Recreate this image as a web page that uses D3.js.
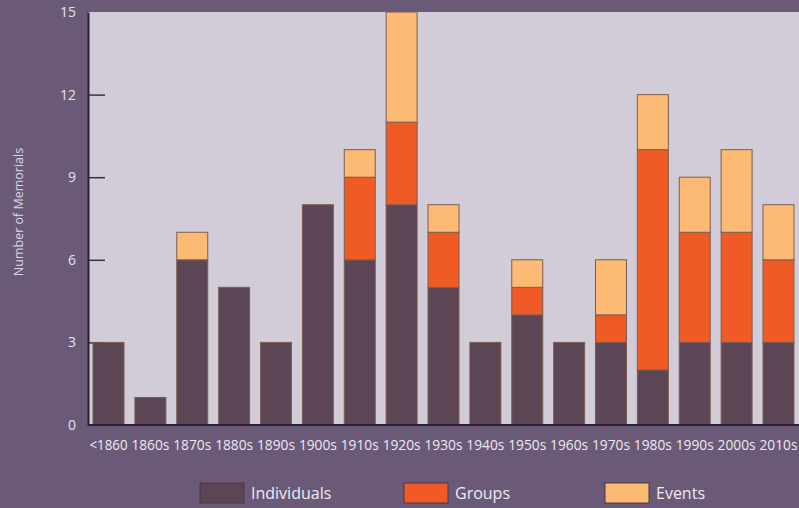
<!DOCTYPE html>
<html>
<head>
<meta charset="utf-8">
<script src="https://cdn.jsdelivr.net/npm/d3@7"></script>
<style>
  body { margin: 0; background: #6a5a78; }
  svg { display: block; }
</style>
</head>
<body>
<div id="chart"></div>
<script>
var svgWidth = 799;
var svgHeight = 508;

// decades and counts per type of memorial
var decades = ["<1860", "1860s", "1870s", "1880s", "1890s", "1900s", "1910s", "1920s", "1930s",
  "1940s", "1950s", "1960s", "1970s", "1980s", "1990s", "2000s", "2010s"];
var individuals = [3, 1, 6, 5, 3, 8, 6, 8, 5, 3, 4, 3, 3, 2, 3, 3, 3];
var groups      = [0, 0, 0, 0, 0, 0, 3, 3, 2, 0, 1, 0, 1, 8, 4, 4, 3];
var events      = [0, 0, 1, 0, 0, 0, 1, 4, 1, 0, 1, 0, 2, 2, 2, 3, 2];
var yTicks = [0, 3, 6, 9, 12, 15];

var seriesNames = ["Individuals", "Groups", "Events"];
var colors = ["#5c4554", "#f05a24", "#fdba74"];

var margin = { top: 12, right: 0, bottom: 83, left: 88 };

var svg = d3.select("#chart")
  .append("svg")
  .attr("width", svgWidth)
  .attr("height", svgHeight);

svg.append("rect")
  .attr("width", svgWidth)
  .attr("height", svgHeight)
  .attr("fill", "#6a5a78");

var table = decades.map(function(d, i) {
  return { decade: d, Individuals: individuals[i], Groups: groups[i], Events: events[i] };
});

var x = d3.scaleBand()
  .domain(decades)
  .range([margin.left, svgWidth - margin.right])
  .paddingInner(0.26)
  .paddingOuter(0.12);

var y = d3.scaleLinear()
  .domain([0, 15])
  .range([svgHeight - margin.bottom, margin.top]);

// plot background
svg.append("rect")
  .attr("x", margin.left)
  .attr("y", margin.top)
  .attr("width", svgWidth - margin.left - margin.right)
  .attr("height", y(0) - margin.top)
  .attr("fill", "#d1ccd7");

// tick marks inside the plot
svg.append("g")
  .attr("transform", "translate(" + margin.left + ",0)")
  .call(d3.axisRight(y).tickValues(yTicks.slice(1, 5)).tickSize(17).tickFormat(""))
  .call(function(g) {
    g.select(".domain").remove();
    g.selectAll("line").attr("stroke", "#3b3040").attr("stroke-width", 1.5);
  });

var stack = d3.stack().keys(seriesNames)(table);

svg.append("g")
  .selectAll("g")
  .data(stack)
  .enter()
  .append("g")
  .attr("fill", function(d, i) { return colors[i]; })
  .selectAll("rect")
  .data(function(d) { return d.filter(function(s) { return s[1] > s[0]; }); })
  .enter()
  .append("rect")
  .attr("x", function(d) { return x(d.data.decade); })
  .attr("y", function(d) { return y(d[1]); })
  .attr("width", x.bandwidth())
  .attr("height", function(d) { return y(d[0]) - y(d[1]); })
  .attr("stroke", "#7b5e52")
  .attr("stroke-width", 1);

// axis lines
svg.append("g")
  .attr("transform", "translate(" + margin.left + ",0)")
  .call(d3.axisLeft(y).tickValues(yTicks).tickSize(0).tickPadding(12))
  .call(function(g) {
    g.select(".domain").attr("stroke", "#2a2230").attr("stroke-width", 2);
    g.selectAll("text")
      .attr("fill", "#e6e2ea")
      .style("font-family", "'Open Sans', sans-serif")
      .style("font-size", "14px");
  });

svg.append("g")
  .attr("transform", "translate(0," + y(0) + ")")
  .call(d3.axisBottom(x).tickSize(0).tickPadding(15))
  .call(function(g) {
    g.select(".domain").attr("stroke", "#2a2230").attr("stroke-width", 2)
      .attr("d", "M" + margin.left + ",0H" + svgWidth);
    g.selectAll("text")
      .attr("fill", "#eeeaf0")
      .attr("textLength", 38)
      .attr("lengthAdjust", "spacingAndGlyphs")
      .style("font-family", "'Open Sans', sans-serif")
      .style("font-size", "14px");
  });

svg.append("text")
  .attr("transform", "translate(23," + 212 + ") rotate(-90)")
  .attr("text-anchor", "middle")
  .attr("fill", "#ddd8e2")
  .style("font-family", "'Open Sans', sans-serif")
  .style("font-size", "12.5px")
  .text("Number of Memorials");

// legend
var legendX = [200, 404, 605];
var legend = svg.append("g")
  .selectAll("g")
  .data(seriesNames)
  .enter()
  .append("g")
  .attr("transform", function(d, i) { return "translate(" + legendX[i] + ",483)"; });

legend.append("rect")
  .attr("width", 44)
  .attr("height", 20)
  .attr("fill", function(d, i) { return colors[i]; })
  .attr("stroke", "#4a3844")
  .attr("stroke-width", 1);

legend.append("text")
  .attr("x", 51)
  .attr("y", 16)
  .attr("fill", "#eeeaf0")
  .style("font-family", "'Open Sans', sans-serif")
  .style("font-size", "16px")
  .text(function(d) { return d; });
</script>
</body>
</html>
